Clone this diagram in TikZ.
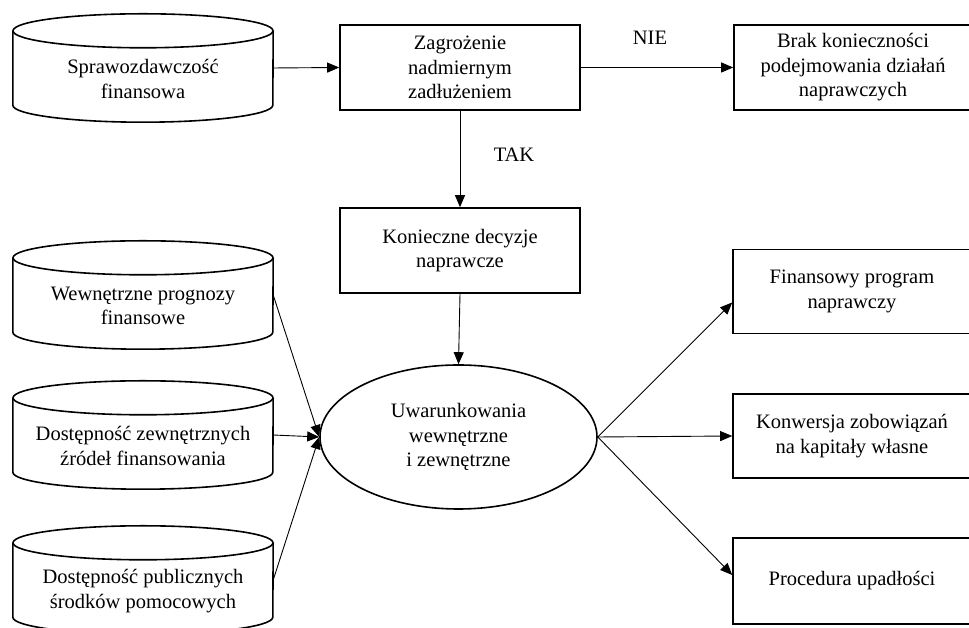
\documentclass[tikz,border=0pt]{standalone}
\usepackage{fontspec}
\setmainfont{Liberation Serif}
\usetikzlibrary{arrows.meta,shapes.geometric}
\tikzset{
  boxnode/.style={draw,line width=1.6pt,minimum width=240pt,minimum height=85pt,inner sep=0pt,align=center,font=\fontsize{20.5}{24.5}\selectfont},
  cylbody/.style={minimum width=260pt,minimum height=108pt,inner sep=0pt},
  cyltext/.style={align=center,inner sep=0pt,font=\fontsize{20.5}{24.5}\selectfont},
  ellnode/.style={draw,ellipse,line width=1.6pt,minimum width=277pt,minimum height=144pt,inner sep=0pt,align=center,font=\fontsize{20.5}{24.5}\selectfont},
  lbl/.style={font=\fontsize{20.5}{24.5}\selectfont,inner sep=0pt},
  conn/.style={line width=0.9pt,-{Triangle[length=12pt,width=10pt]}},
  cylline/.style={line width=1.6pt}
}
\newcommand\mycyl[3]{% name, center, text
  \node[cylbody] (#1) at (#2) {};
  \draw[cylline] ([yshift=-17pt]#1.north west) -- ([yshift=17pt]#1.south west)
    arc[start angle=180,end angle=360,x radius=130pt,y radius=17pt]
    -- ([yshift=-17pt]#1.north east);
  \draw[cylline] ([yshift=-17pt]#1.north) ellipse[x radius=130pt,y radius=17pt];
  \node[cyltext] (#1t) at ([yshift=-11pt]#1.center) {#3};
}
\begin{document}
\begin{tikzpicture}[x=1pt,y=1pt]
\clip (0,0) rectangle (969,628);
\fill[white] (0,0) rectangle (969,628);

\mycyl{c1}{143,560}{Sprawozdawczość\\finansowa}
\mycyl{c2}{143,333}{Wewnętrzne prognozy\\finansowe}
\mycyl{c3}{143,193}{Dostępność zewnętrznych\\źródeł finansowania}
\mycyl{c4}{143,48}{Dostępność publicznych\\środków pomocowych}

\node[boxnode] (r1) at (460,560.5) {Zagrożenie\\nadmiernym\\zadłużeniem};
\node[boxnode,minimum width=238pt] (r2) at (853,560.5) {Brak konieczności\\podejmowania działań\\naprawczych};
\node[boxnode] (r3) at (460,377.5) {Konieczne decyzje\\naprawcze};
\node[ellnode] (e) at (458.5,191) {Uwarunkowania\\wewnętrzne\\i zewnętrzne};
\node[boxnode,minimum width=238pt,minimum height=84pt] (r4) at (852,336.5) {Finansowy program\\naprawczy};
\node[boxnode,minimum width=238pt,minimum height=84pt] (r5) at (852,192) {Konwersja zobowiązań\\na kapitały własne};
\node[boxnode,minimum width=238pt,minimum height=86pt] (r6) at (852,47) {Procedura upadłości};

\node[lbl] (nie) at (650,590) {NIE};
\node[lbl] (tak) at (514,473) {TAK};

\draw[conn] (c1.east) -- (r1.west);
\draw[conn] (r1.east) -- (r2.west);
\draw[conn] (r1.south) -- (r3.north);
\draw[conn] (r3.south) -- (e.north);
\draw[conn] (c2.east) -- (e.west);
\draw[conn] (c3.east) -- (e.west);
\draw[conn] (c4.east) -- (e.west);
\draw[conn] (e.east) -- ([yshift=-11pt]r4.west);
\draw[conn] (e.east) -- (r5.west);
\draw[conn] (e.east) -- ([yshift=6pt]r6.west);
\end{tikzpicture}
\end{document}
